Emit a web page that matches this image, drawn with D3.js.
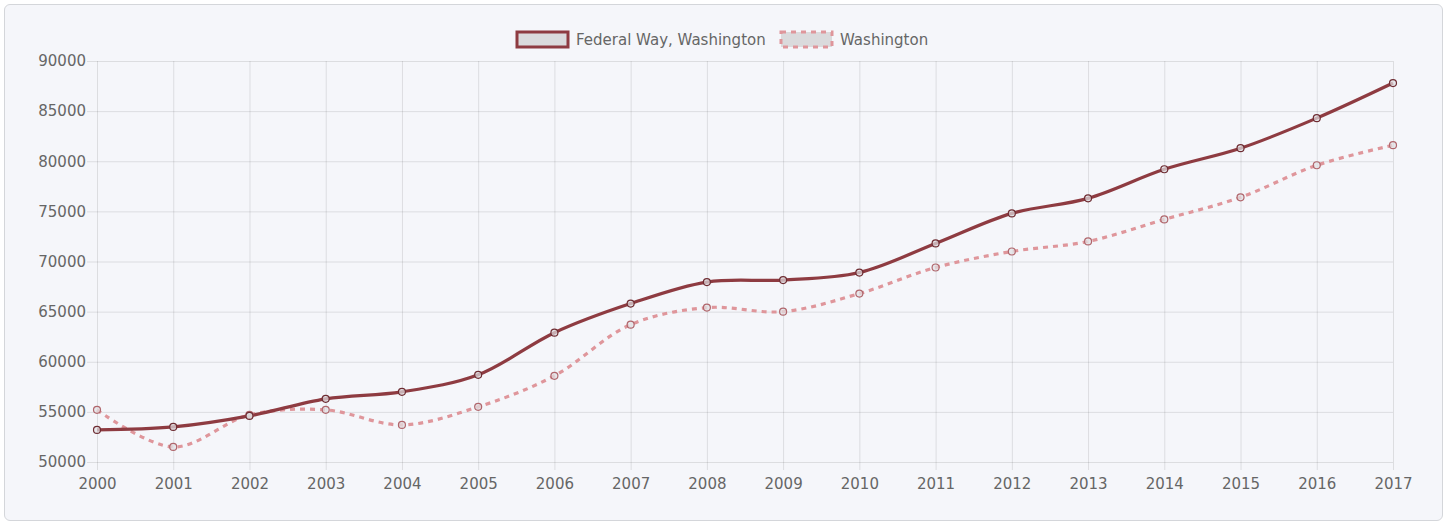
<!DOCTYPE html>
<html>
<head>
<meta charset="utf-8">
<script src="https://cdn.jsdelivr.net/npm/d3@7"></script>
<style>
  html, body { margin: 0; padding: 0; background: #fff; }
  body { width: 1447px; height: 525px; overflow: hidden; }
  .card {
    position: absolute; left: 4px; top: 4px; width: 1437px; height: 515px;
    background: #f5f6fa; border: 1px solid #d4d6da; border-radius: 6px;
  }
  svg { position: absolute; left: 0; top: 0; }
  text { font-family: "DejaVu Sans", sans-serif; }
</style>
</head>
<body>
<div class="card"></div>
<svg id="chart" width="1447" height="525"></svg>
<script>
const years = ["2000","2001","2002","2003","2004","2005","2006","2007","2008",
  "2009","2010","2011","2012","2013","2014","2015","2016","2017"];
const federalWay = [53200, 53500, 54600, 56300, 57000, 58700, 62900, 65800, 67950,
  68150, 68900, 71800, 74800, 76300, 79200, 81300, 84300, 87800];
const washington = [55200, 51500, 54700, 55200, 53700, 55500, 58600, 63700, 65400,
  65000, 66800, 69400, 71000, 72000, 74200, 76400, 79600, 81600];
const yTicks = [50000, 55000, 60000, 65000, 70000, 75000, 80000, 85000, 90000];
const seriesNames = ["Federal Way, Washington", "Washington"];

const svg = d3.select("#chart");
const margin = { left: 97, right: 54, top: 61, bottom: 63 };
const width = 1447, height = 525;

const x = d3.scalePoint()
  .domain(years)
  .range([margin.left, width - margin.right]);

const y = d3.scaleLinear()
  .domain([50000, 90000])
  .range([height - margin.bottom, margin.top]);

const gridColor = "rgba(0,0,0,0.1)";
const textColor = "#666";

// grid + y axis
const yAxis = svg.append("g")
  .attr("transform", `translate(${margin.left},0)`)
  .call(d3.axisLeft(y).tickValues(yTicks).tickSize(10).tickPadding(1)
    .tickFormat(d3.format("d")));
yAxis.select(".domain").remove();
yAxis.selectAll(".tick line").attr("stroke", gridColor);
yAxis.selectAll(".tick text").attr("fill", textColor).attr("font-size", "15px");
yAxis.selectAll(".tick").append("line")
  .attr("x1", 0).attr("x2", width - margin.right - margin.left)
  .attr("stroke", gridColor);

const xAxis = svg.append("g")
  .attr("transform", `translate(0,${height - margin.bottom})`)
  .call(d3.axisBottom(x).tickSize(8).tickPadding(8));
xAxis.select(".domain").remove();
xAxis.selectAll(".tick line").attr("stroke", gridColor);
xAxis.selectAll(".tick text").attr("fill", textColor).attr("font-size", "15px");
xAxis.selectAll(".tick").append("line")
  .attr("y1", 0).attr("y2", -(height - margin.bottom - margin.top))
  .attr("stroke", gridColor);

// lines
const line = d3.line()
  .x((d, i) => x(years[i]))
  .y(d => y(d))
  .curve(d3.curveCatmullRom.alpha(0.5));

const styles = [
  { stroke: "#8e3b41", dash: null, width: 3.2, ptStroke: "#6e2c32" },
  { stroke: "#df969b", dash: "5,5", width: 3.2, ptStroke: "#b0666c" }
];

[washington, federalWay].forEach((vals, k) => {
  const s = styles[1 - k];
  svg.append("path")
    .attr("d", line(vals))
    .attr("fill", "none")
    .attr("stroke", s.stroke)
    .attr("stroke-width", s.width)
    .attr("stroke-dasharray", s.dash);
});

[washington, federalWay].forEach((vals, k) => {
  const s = styles[1 - k];
  svg.append("g").selectAll("circle")
    .data(vals)
    .join("circle")
    .attr("cx", (d, i) => x(years[i]))
    .attr("cy", d => y(d))
    .attr("r", 3.5)
    .attr("fill", "rgba(225,225,228,0.7)")
    .attr("stroke", s.ptStroke)
    .attr("stroke-width", 1.2);
});

// legend
const legend = svg.append("g");
const legendItems = [
  { name: seriesNames[0], s: styles[0], x0: 517 },
  { name: seriesNames[1], s: styles[1], x0: 781 }
];
legendItems.forEach(it => {
  legend.append("rect")
    .attr("x", it.x0).attr("y", 32)
    .attr("width", 51).attr("height", 15)
    .attr("fill", "#dadadc")
    .attr("stroke", it.s.stroke)
    .attr("stroke-width", 3)
    .attr("stroke-dasharray", it.s.dash);
  legend.append("text")
    .attr("x", it.x0 + 59).attr("y", 45)
    .attr("fill", textColor)
    .attr("font-size", "15px")
    .text(it.name);
});
</script>
</body>
</html>
